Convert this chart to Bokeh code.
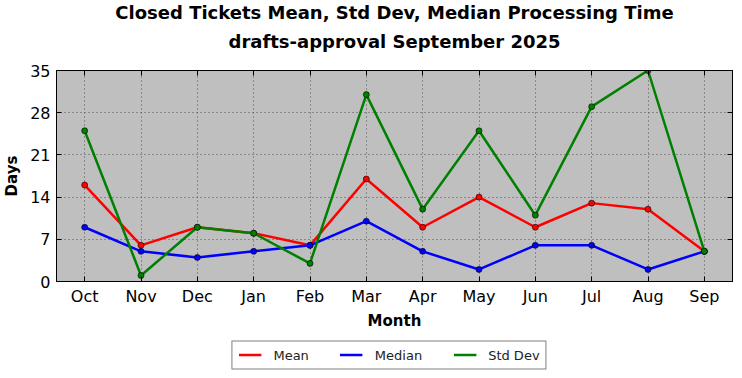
from bokeh.plotting import figure
from bokeh.layouts import column
from bokeh.models import (Legend, LegendItem, CategoricalAxis, LinearAxis,
                          FixedTicker, Range1d, CustomLabelingPolicy, Title)
from bokeh.embed import file_html
from bokeh.resources import INLINE

months = ["Oct", "Nov", "Dec", "Jan", "Feb", "Mar", "Apr", "May", "Jun", "Jul", "Aug", "Sep"]
mean_days = [16, 6, 9, 8, 6, 17, 9, 14, 9, 13, 12, 5]
median_days = [9, 5, 4, 5, 6, 10, 5, 2, 6, 6, 2, 5]
std_days = [25, 1, 9, 8, 3, 31, 12, 25, 11, 29, 35, 5]
y_ticks = [0, 7, 14, 21, 28, 35]
title_lines = ["Closed Tickets Mean, Std Dev, Median Processing Time",
               "drafts-approval September 2025"]

FONT = "DejaVu Sans"

p = figure(x_range=months, y_range=Range1d(0, 35),
           frame_width=676, frame_height=211,
           output_backend="svg", toolbar_location=None,
           min_border_left=47, min_border_right=10, min_border_top=0, min_border_bottom=0)

p.background_fill_color = "#bfbfbf"
p.border_fill_color = "white"
p.outline_line_color = "black"
p.outline_line_width = 1

for g in (p.xgrid, p.ygrid):
    g.grid_line_color = "#505050"
    g.grid_line_dash = "1 3"
    g.grid_line_width = 1
p.ygrid.ticker = FixedTicker(ticks=y_ticks)

p.yaxis.ticker = FixedTicker(ticks=y_ticks)
for ax in (p.xaxis[0], p.yaxis[0]):
    ax.major_label_text_font = FONT
    ax.major_label_text_font_size = "16px"
    ax.major_label_text_color = "black"
    ax.axis_label_text_font = FONT
    ax.axis_label_text_font_size = "15px"
    ax.axis_label_text_font_style = "bold"
    ax.axis_label_text_color = "black"
    ax.major_tick_in = 5
    ax.major_tick_out = 0
    ax.minor_tick_in = 0
    ax.minor_tick_out = 0
    ax.major_tick_line_color = "black"
    ax.axis_line_color = "black"
p.xaxis.axis_label = "Month"
p.yaxis.axis_label = "Days"
p.xaxis.major_label_standoff = 5
p.xaxis.axis_label_standoff = 3
p.yaxis.major_label_standoff = 6
p.yaxis.axis_label_standoff = 6

hide = "return new Set()"
top_ax = CategoricalAxis(major_tick_in=5, major_tick_out=0, axis_line_color="black",
                         major_label_standoff=0, major_label_text_font_size="8px",
                         major_label_policy=CustomLabelingPolicy(code=hide))
right_ax = LinearAxis(ticker=FixedTicker(ticks=y_ticks), major_tick_in=5, major_tick_out=0,
                      minor_tick_in=0, minor_tick_out=0, axis_line_color="black",
                      major_label_standoff=0, major_label_text_font_size="8px",
                      major_label_policy=CustomLabelingPolicy(code=hide))
p.add_layout(top_ax, "above")
p.add_layout(right_ax, "right")

for line_text, stand, pad in ((title_lines[1], 14, 0), (title_lines[0], -12, 5)):
    p.add_layout(Title(text=line_text, align="center", text_font=FONT, text_font_size="18px",
                       text_font_style="bold", text_color="black", standoff=stand,
                       offset=0, padding=pad), "above")

series = [("Mean", mean_days, "#ff0000"),
          ("Median", median_days, "#0000ff"),
          ("Std Dev", std_days, "#008000")]
for name, vals, color in series:
    p.line(months, vals, line_color=color, line_width=2.5)
    p.scatter(months, vals, size=6, fill_color=color, line_color="black", line_width=0.6)

# legend strip below the chart (its own small figure, lines kept out of view)
lg = figure(x_range=months, y_range=Range1d(100, 101), width=734, height=45,
            output_backend="svg", toolbar_location=None,
            x_axis_location=None, y_axis_location=None,
            min_border_left=38, min_border_right=0, min_border_top=0, min_border_bottom=0)
lg.xgrid.visible = False
lg.ygrid.visible = False
lg.outline_line_color = None
lg.background_fill_color = "white"
lg.border_fill_color = "white"
items = []
for name, vals, color in series:
    ln = lg.line(months, vals, line_color=color, line_width=2.5)
    items.append(LegendItem(label=name, renderers=[ln]))

legend = Legend(items=items, orientation="horizontal", location="center",
                label_text_font=FONT, label_text_font_size="13px", label_text_color="#222222",
                glyph_width=23, glyph_height=14, label_standoff=12, spacing=31,
                padding=6, margin=0, border_line_color="black", border_line_width=1,
                background_fill_color="white", background_fill_alpha=1.0,
                label_height=13)
lg.add_layout(legend, "center")

layout = column(p, lg, spacing=0)
open("out.html", "w").write(file_html(layout, INLINE))
